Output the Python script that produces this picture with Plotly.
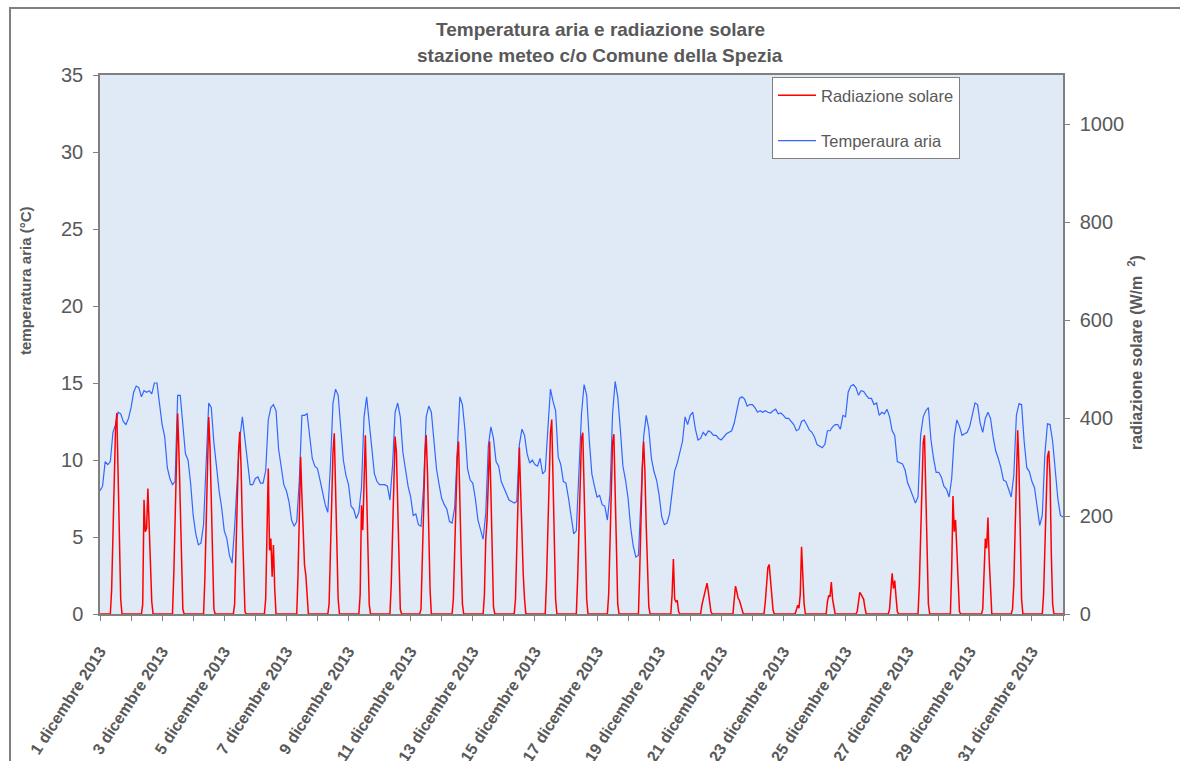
import pandas as pd
import plotly.graph_objects as go

# ---- data ----
# air temperature, °C, every 2 hours (00,02,...,22) for each day 1..31 December 2013
TEMP_DEC = [
    [8.0, 8.3, 9.9, 9.7, 9.9, 11.8, 12.3, 13.1, 13.0, 12.5, 12.3, 12.7],
    [13.4, 14.4, 14.8, 14.7, 14.1, 14.5, 14.4, 14.5, 14.3, 15.0, 15.0, 13.6],
    [12.3, 11.5, 9.5, 8.8, 8.4, 8.6, 14.2, 14.2, 12.0, 10.4, 10.0, 8.5],
    [6.4, 5.2, 4.5, 4.6, 5.8, 9.8, 13.7, 13.4, 11.1, 9.6, 8.0, 6.9],
    [5.4, 4.9, 3.8, 3.3, 5.6, 8.7, 11.4, 12.8, 11.2, 9.6, 8.4, 8.4],
    [8.8, 8.9, 8.5, 8.5, 9.3, 12.6, 13.4, 13.6, 13.2, 10.7, 9.4, 8.4],
    [8.0, 7.3, 6.1, 5.7, 6.0, 8.7, 12.9, 12.9, 13.0, 11.4, 10.1, 9.6],
    [9.45, 8.7, 7.8, 7.1, 6.6, 9.6, 13.7, 14.6, 14.2, 12.3, 10.0, 9.0],
    [8.4, 7.0, 6.8, 6.2, 6.6, 8.2, 12.8, 14.1, 12.5, 10.5, 9.1, 8.6],
    [8.4, 8.4, 8.4, 8.3, 7.4, 9.6, 13.1, 13.7, 12.8, 10.5, 9.3, 8.3],
    [7.6, 6.4, 6.5, 5.8, 5.7, 8.3, 12.8, 13.5, 13.1, 11.0, 9.4, 8.4],
    [7.5, 7.1, 6.8, 6.0, 5.9, 6.9, 11.0, 14.1, 13.6, 11.9, 9.4, 8.7],
    [8.5, 7.5, 6.1, 5.4, 4.85, 6.5, 10.9, 12.15, 11.4, 9.9, 9.6, 8.6],
    [8.2, 7.8, 7.4, 7.3, 7.2, 7.3, 11.0, 12.0, 11.6, 10.4, 9.8, 10.0],
    [9.7, 9.6, 10.1, 9.1, 9.3, 12.0, 14.6, 13.8, 13.2, 10.2, 9.7, 8.6],
    [8.5, 7.5, 6.4, 5.2, 5.4, 8.9, 13.0, 14.9, 14.2, 11.3, 9.1, 8.3],
    [7.6, 7.7, 7.1, 7.0, 6.1, 7.8, 13.0, 15.1, 14.1, 12.0, 9.6, 8.7],
    [7.5, 5.6, 4.4, 3.7, 3.8, 7.6, 11.5, 12.9, 12.0, 10.1, 9.25, 8.7],
    [7.7, 6.3, 5.8, 5.9, 6.5, 7.9, 9.3, 9.8, 10.6, 11.2, 12.8, 12.3],
    [12.9, 13.1, 12.0, 11.3, 11.4, 11.8, 11.6, 11.9, 11.8, 11.6, 11.6, 11.4],
    [11.3, 11.5, 11.7, 11.8, 11.9, 12.4, 13.3, 14.0, 14.1, 13.95, 13.5, 13.6],
    [13.6, 13.4, 13.1, 13.2, 13.1, 13.2, 13.1, 13.05, 13.2, 13.3, 13.0, 13.05],
    [12.9, 12.7, 12.7, 12.5, 12.3, 11.9, 12.0, 12.5, 12.6, 12.3, 11.95, 11.8],
    [11.5, 11.0, 10.9, 10.8, 11.0, 11.9, 11.9, 12.15, 12.3, 12.3, 12.0, 12.9],
    [12.8, 14.4, 14.8, 14.9, 14.7, 14.2, 14.5, 14.45, 14.2, 14.0, 14.0, 13.6],
    [13.7, 12.9, 13.1, 13.0, 13.3, 12.8, 11.9, 11.6, 9.9, 9.8, 9.75, 9.35],
    [8.5, 8.1, 7.6, 7.2, 7.6, 11.6, 12.8, 13.2, 13.4, 11.3, 10.1, 9.2],
    [9.2, 8.9, 8.3, 8.1, 7.6, 8.8, 11.5, 12.6, 12.2, 11.6, 11.7, 11.8],
    [12.2, 13.0, 13.7, 13.6, 12.4, 11.8, 12.7, 13.1, 12.7, 11.5, 10.6, 10.1],
    [9.5, 8.7, 8.6, 8.1, 7.6, 9.0, 12.9, 13.65, 13.6, 11.2, 9.5, 9.25],
    [8.6, 8.2, 6.8, 5.75, 6.4, 10.4, 12.35, 12.3, 11.2, 9.2, 7.5, 6.4],
]
TEMP_JAN1_0000 = 6.3

# solar radiation, W/m2, hourly from 08:00 to 17:00 each day (night hours read as 0)
RAD_DAYTIME = [
    [0, 50, 160, 280, 380, 410, 300, 150, 30, 0],
    [0, 20, 233, 168, 175, 256, 190, 100, 25, 0],
    [0, 80, 200, 320, 409, 330, 200, 80, 10, 0],
    [0, 70, 190, 320, 402, 340, 210, 80, 10, 0],
    [20, 120, 240, 330, 372, 300, 180, 70, 5, 0],
    [30, 150, 297, 130, 154, 76, 141, 50, 0, 0],
    [0, 80, 230, 321, 240, 150, 100, 80, 30, 0],
    [0, 20, 120, 240, 330, 369, 260, 130, 30, 0],
    [0, 40, 222, 171, 300, 365, 250, 110, 20, 0],
    [0, 60, 180, 290, 362, 330, 200, 80, 10, 0],
    [10, 90, 210, 320, 365, 290, 160, 50, 0, 0],
    [0, 30, 130, 240, 320, 352, 260, 120, 20, 0],
    [0, 40, 150, 190, 300, 352, 250, 110, 15, 0],
    [0, 30, 150, 260, 340, 250, 150, 80, 30, 0],
    [0, 70, 170, 280, 370, 397, 280, 150, 30, 0],
    [0, 70, 180, 290, 360, 370, 260, 130, 30, 0],
    [0, 40, 160, 280, 350, 367, 240, 110, 20, 0],
    [0, 90, 200, 300, 352, 290, 180, 80, 15, 0],
    [0, 0, 40, 112, 30, 25, 28, 5, 0, 0],
    [0, 18, 28, 42, 52, 63, 45, 20, 5, 0],
    [0, 0, 30, 57, 45, 32, 28, 20, 8, 0],
    [0, 0, 25, 60, 95, 101, 65, 30, 8, 0],
    [0, 0, 8, 18, 12, 40, 137, 80, 20, 0],
    [0, 0, 25, 38, 35, 65, 30, 10, 0, 0],
    [0, 5, 22, 44, 40, 36, 30, 12, 0, 0],
    [0, 0, 10, 60, 83, 52, 68, 35, 5, 0],
    [0, 60, 170, 280, 350, 365, 250, 120, 20, 0],
    [0, 0, 90, 241, 168, 192, 130, 60, 5, 0],
    [0, 0, 10, 70, 154, 134, 197, 110, 40, 0],
    [0, 10, 60, 170, 290, 375, 300, 150, 30, 0],
    [0, 40, 150, 260, 320, 333, 280, 120, 20, 0],
]
NIGHT_BEFORE = [0] * 8   # 00:00 - 07:00
NIGHT_AFTER = [0] * 6    # 18:00 - 23:00

TICK_DATES = ["2013-12-%02d" % d for d in range(1, 32, 2)]
TICK_LABELS = ["1 dicembre 2013", "3 dicembre 2013", "5 dicembre 2013",
               "7 dicembre 2013", "9 dicembre 2013", "11 dicembre 2013",
               "13 dicembre 2013", "15 dicembre 2013", "17 dicembre 2013",
               "19 dicembre 2013", "21 dicembre 2013", "23 dicembre 2013",
               "25 dicembre 2013", "27 dicembre 2013", "29 dicembre 2013",
               "31 dicembre 2013"]

# ---- build series ----
temp = [v for day in TEMP_DEC for v in day] + [TEMP_JAN1_0000]
temp_x = pd.date_range("2013-12-01 00:00", periods=len(temp), freq="2h")
rad = [v for day in RAD_DAYTIME for v in (NIGHT_BEFORE + day + NIGHT_AFTER)] + [0]
rad_x = pd.date_range("2013-12-01 00:00", periods=len(rad), freq="h")

GRAY = "#808080"
TXT = "#595959"
FONT = "Liberation Sans, Arial, sans-serif"

fig = go.Figure()
fig.add_trace(go.Scatter(x=rad_x, y=rad, name="Radiazione solare", mode="lines",
                         yaxis="y2", legendgroup="r",
                         line=dict(color="#ff0000", width=1.5)))
fig.add_trace(go.Scatter(x=temp_x, y=temp, name="Temperaura aria", mode="lines",
                         legendgroup="t",
                         line=dict(color="#3366ff", width=1.2)))

L, R, T, B = 100, 117, 75, 147
W, H = 1180, 761
pw, ph = W - L - R, H - T - B


def px(xp):
    return (xp - L) / pw


def py(yp):
    return (H - B - yp) / ph


fig.update_layout(
    width=W, height=H, autosize=False,
    margin=dict(l=L, r=R, t=T, b=B, pad=0),
    paper_bgcolor="white",
    plot_bgcolor="#dfeaf6",
    font=dict(family=FONT, color=TXT),
    showlegend=True,
    legend=dict(x=px(772), y=py(77), xanchor="left", yanchor="top",
                bgcolor="white", bordercolor=GRAY, borderwidth=1,
                font=dict(size=16.5, color=TXT), traceorder="grouped",
                tracegroupgap=21, itemwidth=38),
    xaxis=dict(type="date", range=["2013-12-01", "2014-01-01"],
               tickmode="array", tickvals=TICK_DATES, ticktext=TICK_LABELS,
               tickangle=-57, ticks="outside", ticklen=5, tickcolor=GRAY,
               tickfont=dict(size=16, color=TXT, weight="bold"),
               minor=dict(ticks="outside", ticklen=5, tickcolor=GRAY,
                          dtick=86400000, tick0="2013-12-01", showgrid=False),
               showline=True, linecolor=GRAY, linewidth=1.5, mirror=True,
               showgrid=False, zeroline=False, automargin=False,
               ticklabelstandoff=15),
    yaxis=dict(range=[0, 35], tick0=0, dtick=5, ticks="outside", ticklen=5,
               tickcolor=GRAY, tickfont=dict(size=20, color=TXT),
               showline=True, linecolor=GRAY, linewidth=1.5,
               showgrid=False, zeroline=False, automargin=False,
               ticklabelstandoff=6),
    yaxis2=dict(range=[0, 1100], overlaying="y", side="right",
                tickmode="array", tickvals=[0, 200, 400, 600, 800, 1000],
                ticks="outside", ticklen=5, tickcolor=GRAY,
                tickfont=dict(size=20, color=TXT),
                showline=True, linecolor=GRAY, linewidth=1.5,
                showgrid=False, zeroline=False, automargin=False,
                ticklabelstandoff=6),
    annotations=[
        dict(text="<b>Temperatura aria e radiazione solare</b>", xref="paper", yref="paper",
             x=px(600), y=py(29), showarrow=False, xanchor="center", yanchor="middle",
             font=dict(size=19, color=TXT)),
        dict(text="<b>stazione meteo c/o Comune della Spezia</b>", xref="paper", yref="paper",
             x=px(600), y=py(55), showarrow=False, xanchor="center", yanchor="middle",
             font=dict(size=19, color=TXT)),
        dict(text="<b>temperatura aria (°C)</b>", xref="paper", yref="paper",
             x=px(25), y=py(281), showarrow=False, textangle=-90,
             xanchor="center", yanchor="middle", font=dict(size=15, color=TXT)),
        dict(text="<b>radiazione solare (W/m  <sup>2</sup>)</b>", xref="paper", yref="paper",
             x=px(1135), y=py(353), showarrow=False, textangle=-90,
             xanchor="center", yanchor="middle", font=dict(size=16, color=TXT)),
    ],
    shapes=[
        dict(type="rect", xref="paper", yref="paper", layer="above",
             x0=px(10), x1=px(1195), y0=py(790), y1=py(8),
             line=dict(color=GRAY, width=2), fillcolor="rgba(0,0,0,0)"),
    ],
)

fig.write_html("out.html", config={"displayModeBar": False},
               post_script="document.body.style.margin='0';")
